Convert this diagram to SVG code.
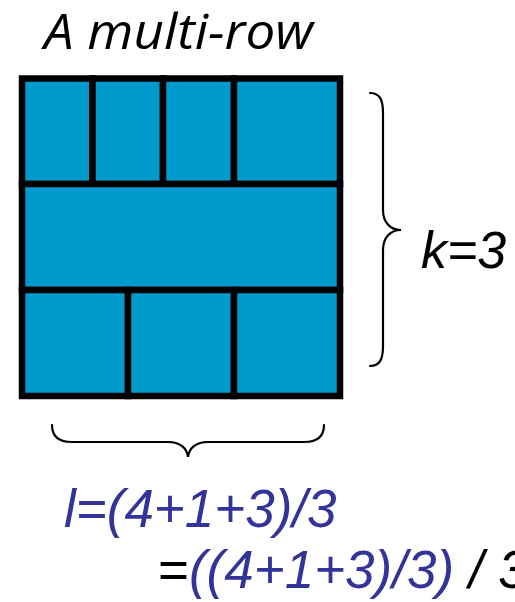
<svg xmlns="http://www.w3.org/2000/svg" width="515" height="602" viewBox="0 0 515 602">
<style>
.cell{fill:#009acd;stroke:#000;stroke-width:6.5}
.brace{fill:none;stroke:#000;stroke-width:2.2;stroke-linecap:round}
.t{font-family:"Liberation Sans",Arial,sans-serif;font-style:italic}
.blue{fill:#333399}
.blk{fill:#000}
</style>
<rect width="515" height="602" fill="#fff"/>
<g id="title"><text class="t blk" x="44" y="49" font-family="Open Sans" font-size="50" textLength="269" lengthAdjust="spacingAndGlyphs" style="font-family:'Open Sans',sans-serif">A multi-row</text></g>
<g id="grid">
<g id="row1">
<rect id="c11" class="cell" x="22" y="78.5" width="70.5" height="105.5"/>
<rect id="c12" class="cell" x="92.5" y="78.5" width="70.5" height="105.5"/>
<rect id="c13" class="cell" x="163" y="78.5" width="71" height="105.5"/>
<rect id="c14" class="cell" x="234" y="78.5" width="106" height="105.5"/>
</g>
<g id="row2">
<rect id="c21" class="cell" x="22" y="184" width="318" height="106"/>
</g>
<g id="row3">
<rect id="c31" class="cell" x="22" y="290" width="106" height="106"/>
<rect id="c32" class="cell" x="128" y="290" width="106" height="106"/>
<rect id="c33" class="cell" x="234" y="290" width="106" height="106"/>
</g>
</g>
<g id="connectors">
<path id="brace-right" class="brace" d="M370,93 C380,93 383,100 383,113 L383,210 C383,222 390,230 401,230 C390,230 383,238 383,250 L383,346 C383,359 380,366 370,366"/>
<path id="brace-bottom" class="brace" d="M52,425 C52,437 60,442 72,442 L168,442 C180,442 187,448 188,457 C189,448 196,442 208,442 L304,442 C316,442 324,437 324,425"/>
</g>
<g id="label-k"><text class="t blk" x="421" y="268" font-size="52">k=3</text></g>
<g id="formula">
<text class="t blue" x="64" y="527" font-size="53">l=(4+1+3)/3</text>
<text class="t" x="158" y="588" font-size="53"><tspan class="blk" font-style="normal">=</tspan><tspan class="blue">((4+1+3)/3)</tspan><tspan class="blk"> / 3</tspan></text>
</g>
</svg>
